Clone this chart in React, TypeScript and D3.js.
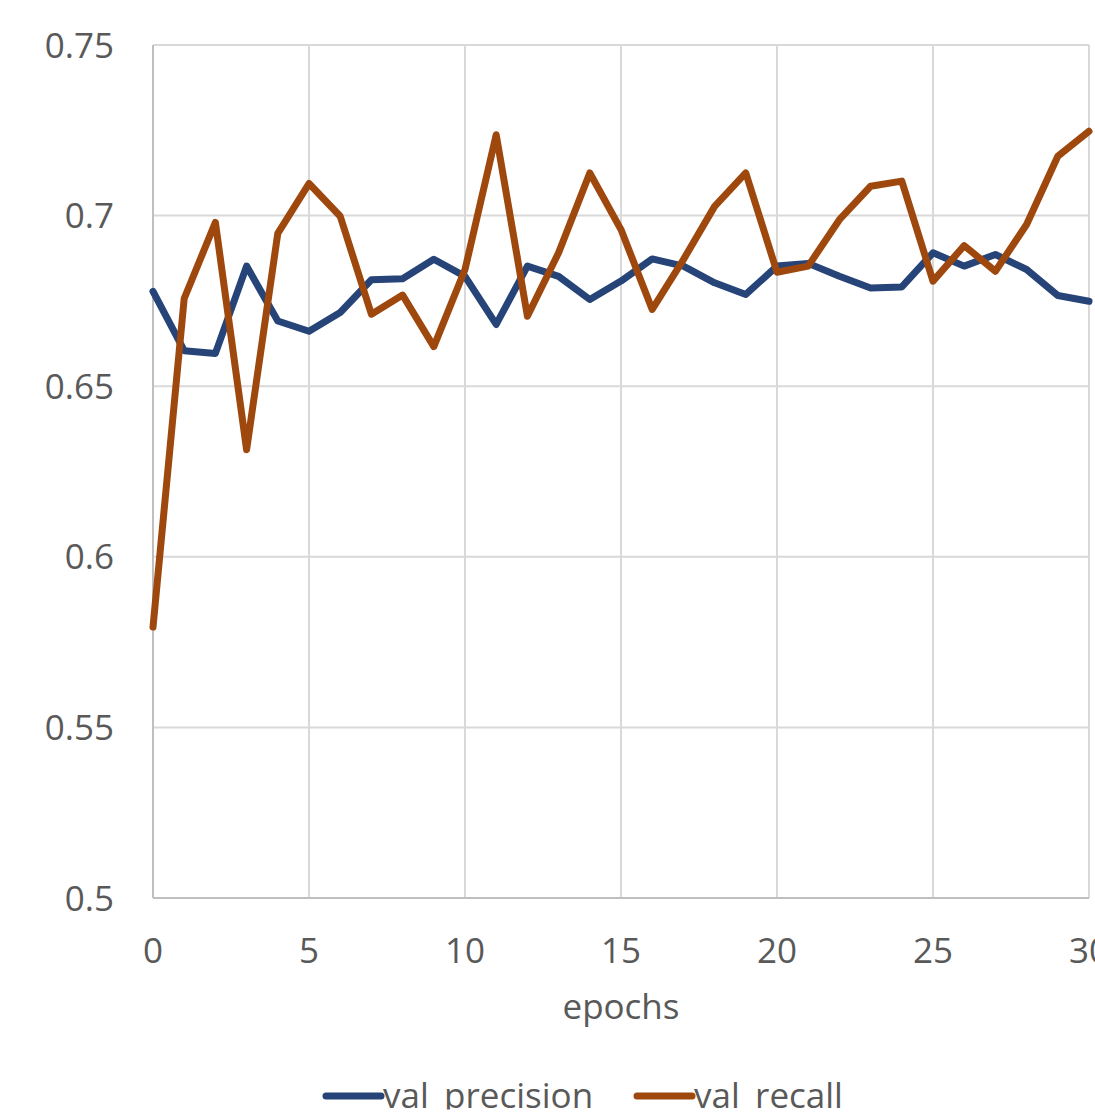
import React, { useEffect, useRef } from "react";
import * as d3 from "d3";

// Validation metrics per training epoch
const epochs = d3.range(0, 31);
const valPrecision = [
  0.6778, 0.6604, 0.6596, 0.6852, 0.6691, 0.6661, 0.6716, 0.6812, 0.6815, 0.6872,
  0.6822, 0.6681, 0.6852, 0.6822, 0.6754, 0.6808, 0.6873, 0.6852, 0.6803, 0.6769,
  0.6852, 0.6860, 0.6822, 0.6788, 0.6791, 0.6891, 0.6852, 0.6886, 0.6842, 0.6766,
  0.6749,
];
const valRecall = [
  0.5794, 0.6757, 0.6980, 0.6314, 0.6948, 0.7094, 0.6998, 0.6711, 0.6767, 0.6616,
  0.6842, 0.7237, 0.6705, 0.6891, 0.7125, 0.6959, 0.6725, 0.6871, 0.7027, 0.7125,
  0.6834, 0.6852, 0.6988, 0.7086, 0.7101, 0.6808, 0.6912, 0.6837, 0.6974, 0.7174,
  0.7247,
];
const yTicks = [0.5, 0.55, 0.6, 0.65, 0.7, 0.75];
const yTickLabels = ["0.5", "0.55", "0.6", "0.65", "0.7", "0.75"];
const xTicks = [0, 5, 10, 15, 20, 25, 30];
const seriesNames = ["val_precision", "val_recall"];
const seriesColors = ["#264478", "#9E480E"];

const W = 1095;
const H = 1113;
const FONT = "'Open Sans', sans-serif";
const FS = 35;

export default function App() {
  const ref = useRef<SVGSVGElement>(null);

  useEffect(() => {
    const svg = d3.select(ref.current);
    svg.selectAll("*").remove();

    const x = d3.scaleLinear().domain([0, 30]).range([153, 1089]);
    const y = d3.scaleLinear().domain([0.5, 0.75]).range([898, 45]);

    // the legend sits at the bottom edge of the canvas
    svg
      .append("defs")
      .append("clipPath")
      .attr("id", "legend-clip")
      .append("rect")
      .attr("x", 0)
      .attr("y", 0)
      .attr("width", W)
      .attr("height", 1109.5);

    // grid
    const grid = svg.append("g");
    grid
      .selectAll("line.h")
      .data(yTicks)
      .join("line")
      .attr("x1", x(0))
      .attr("x2", x(30))
      .attr("y1", (d) => y(d))
      .attr("y2", (d) => y(d))
      .attr("stroke", "#D9D9D9")
      .attr("stroke-width", 2);
    grid
      .selectAll("line.v")
      .data(xTicks)
      .join("line")
      .attr("x1", (d) => x(d))
      .attr("x2", (d) => x(d))
      .attr("y1", y(0.75))
      .attr("y2", y(0.5))
      .attr("stroke", "#D9D9D9")
      .attr("stroke-width", 2);
    // axis lines
    svg
      .append("line")
      .attr("x1", x(0))
      .attr("x2", x(0))
      .attr("y1", y(0.75))
      .attr("y2", y(0.5))
      .attr("stroke", "#BFBFBF")
      .attr("stroke-width", 2);
    svg
      .append("line")
      .attr("x1", x(0))
      .attr("x2", x(30))
      .attr("y1", y(0.5))
      .attr("y2", y(0.5))
      .attr("stroke", "#BFBFBF")
      .attr("stroke-width", 2);

    // y tick labels
    svg
      .append("g")
      .selectAll("text")
      .data(yTicks)
      .join("text")
      .attr("x", 114)
      .attr("y", (d) => y(d))
      .attr("dy", "0.36em")
      .attr("text-anchor", "end")
      .attr("font-family", FONT)
      .attr("font-size", FS)
      .attr("fill", "#595959")
      .text((d, i) => yTickLabels[i]);

    // x tick labels
    svg
      .append("g")
      .selectAll("text")
      .data(xTicks)
      .join("text")
      .attr("x", (d) => x(d))
      .attr("y", 963)
      .attr("text-anchor", "middle")
      .attr("font-family", FONT)
      .attr("font-size", FS)
      .attr("fill", "#595959")
      .text((d) => String(d));

    // axis title
    svg
      .append("text")
      .attr("x", 621)
      .attr("y", 1019)
      .attr("text-anchor", "middle")
      .attr("font-family", FONT)
      .attr("font-size", FS)
      .attr("fill", "#595959")
      .text("epochs");

    // series lines
    const series = [valPrecision, valRecall];
    const line = d3
      .line<number>()
      .x((d, i) => x(epochs[i]))
      .y((d) => y(d));
    series.forEach((vals, i) => {
      svg
        .append("path")
        .attr("d", line(vals))
        .attr("fill", "none")
        .attr("stroke", seriesColors[i])
        .attr("stroke-width", 7)
        .attr("stroke-linejoin", "round")
        .attr("stroke-linecap", "round");
    });

    // legend
    const legendX = [326, 637];
    const legendY = 1096;
    const legend = svg.append("g").attr("clip-path", "url(#legend-clip)");
    seriesNames.forEach((name, i) => {
      legend
        .append("line")
        .attr("x1", legendX[i])
        .attr("x2", legendX[i] + 55)
        .attr("y1", legendY)
        .attr("y2", legendY)
        .attr("stroke", seriesColors[i])
        .attr("stroke-width", 7)
        .attr("stroke-linecap", "round");
      legend
        .append("text")
        .attr("x", legendX[i] + 57)
        .attr("y", 1108)
        .attr("font-family", FONT)
        .attr("font-size", FS)
        .attr("fill", "#595959")
        .text(name);
    });
  }, []);

  return (
    <svg
      ref={ref}
      width={W}
      height={H}
      style={{ position: "absolute", left: 0, top: 0, background: "#fff", overflow: "hidden" }}
    />
  );
}
